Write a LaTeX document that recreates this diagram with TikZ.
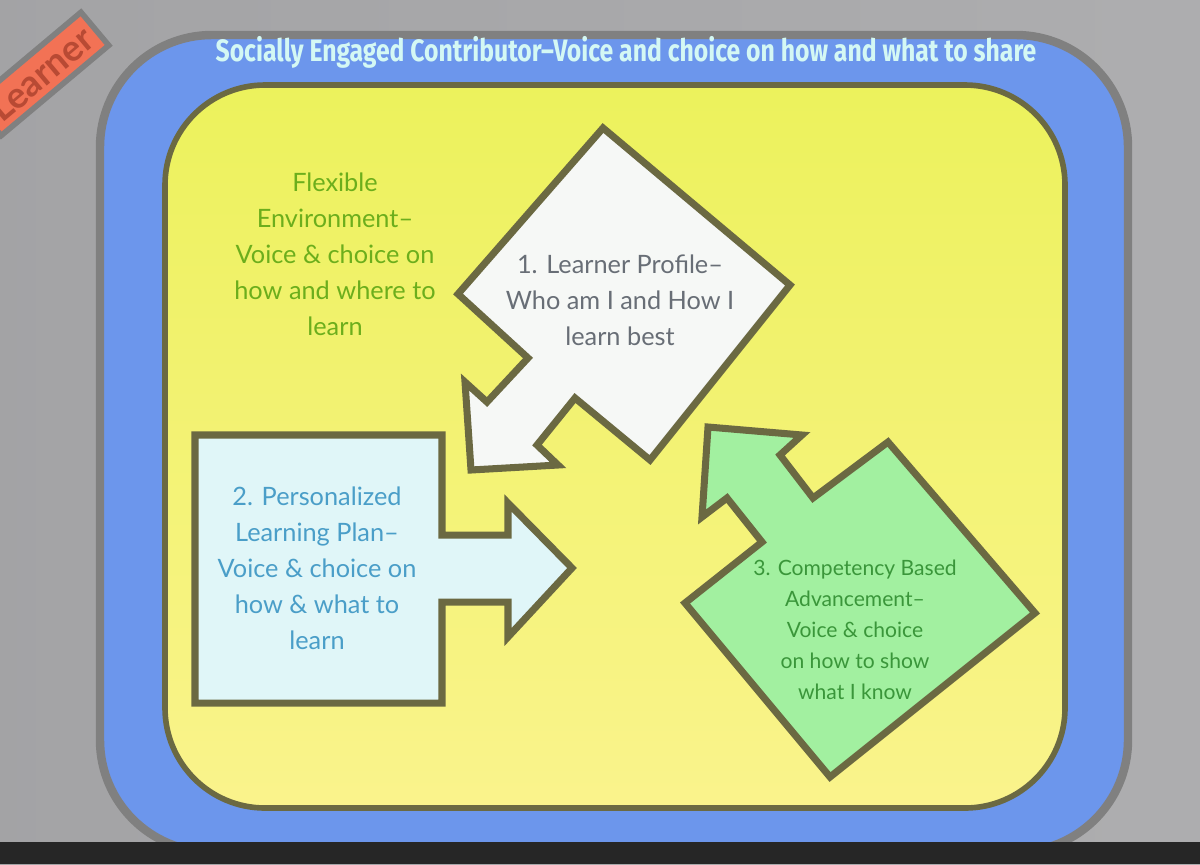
\documentclass[tikz,border=0pt]{standalone}
\usepackage{fontspec}
\setmainfont{Lato}
\newfontfamily\headfont{Fira Sans}
\usetikzlibrary{positioning}

\definecolor{screen}{RGB}{170,170,172}
\definecolor{screenrim}{RGB}{128,128,128}
\definecolor{frameblue}{RGB}{108,150,236}
\definecolor{padtop}{RGB}{236,242,92}
\definecolor{padbot}{RGB}{250,243,140}
\definecolor{olive}{RGB}{107,105,66}
\definecolor{profilefill}{RGB}{246,248,246}
\definecolor{planfill}{RGB}{224,246,248}
\definecolor{advfill}{RGB}{162,240,160}
\definecolor{profiletext}{RGB}{104,110,118}
\definecolor{plantext}{RGB}{74,158,200}
\definecolor{advtext}{RGB}{58,150,58}
\definecolor{envtext}{RGB}{108,174,28}
\definecolor{titletext}{RGB}{212,248,244}
\definecolor{tagfill}{RGB}{242,114,85}
\definecolor{tagtext}{RGB}{184,74,52}

\begin{document}
\begin{tikzpicture}[x=0.025cm, y=-0.025cm,
  piece/.style={draw=olive, line width=5pt, line join=miter},
  label/.style={align=center, font=\fontsize{18}{25.6}\selectfont},
  title/.style={text=titletext, font=\headfont\bfseries\fontsize{22}{24}\selectfont}]
  \useasboundingbox (0,0) rectangle (1200,864);
  % screen and frames
  \fill[left color=screen!108, right color=screen!96] (0,0) rectangle (1200,864);
  \draw[screenrim, line width=6pt, fill=frameblue, rounded corners=2.8cm] (100,35) rectangle (1128,852);
  \fill[black!85] (0,842) rectangle (1200,864);
  \draw[olive, line width=4pt, top color=padtop, bottom color=padbot, rounded corners=2.5cm] (165,85) rectangle (1065,808);
  \node[title] (share) at (626,52) {\scalebox{0.8}[1]{Socially Engaged Contributor–Voice and choice on how and what to share}};
  % tag in the corner
  \node[draw=screenrim, line width=4pt, fill=tagfill, text=tagtext, rotate=40, anchor=east,
    minimum height=1.08cm, inner xsep=6pt, font=\bfseries\fontsize{26}{28}\selectfont] (tag) at (97,27) {Learner};
  % 1. learner profile
  \draw[piece, fill=profilefill] (603,128) -- (790,285) -- (650,460) -- (575,398) -- (537,445)
    -- (558,465) -- (471,470) -- (465,382) -- (487,402) -- (528,358) -- (458,294) -- cycle;
  \node[label, text=profiletext] (profile) at (620,300) {1. Learner Profile–\\Who am I and How I\\learn best};
  % 2. learning plan
  \draw[piece, fill=planfill] (195,435) -- (442,435) -- (442,535) -- (508,535) -- (508,503)
    -- (572,568) -- (508,637) -- (508,602) -- (442,602) -- (442,703) -- (195,703) -- cycle;
  \node[label, text=plantext] (plan) at (317,568) {2. Personalized\\Learning Plan–\\Voice \& choice on\\how \& what to\\learn};
  % 3. advancement
  \draw[piece, fill=advfill] (708,427) -- (802,435) -- (780,455) -- (813,498) -- (888,442)
    -- (1035,613) -- (830,777) -- (685,603) -- (762,542) -- (727,498) -- (702,517) -- cycle;
  \node[label, text=advtext, font=\fontsize{15}{22}\selectfont] (advance) at (855,630) {3. Competency Based\\Advancement–\\Voice \& choice\\on how to show\\what I know};
  % environment
  \node[label, text=envtext] (environment) at (335,254) {Flexible\\Environment–\\Voice \& choice on\\how and where to\\learn};
\end{tikzpicture}
\end{document}
